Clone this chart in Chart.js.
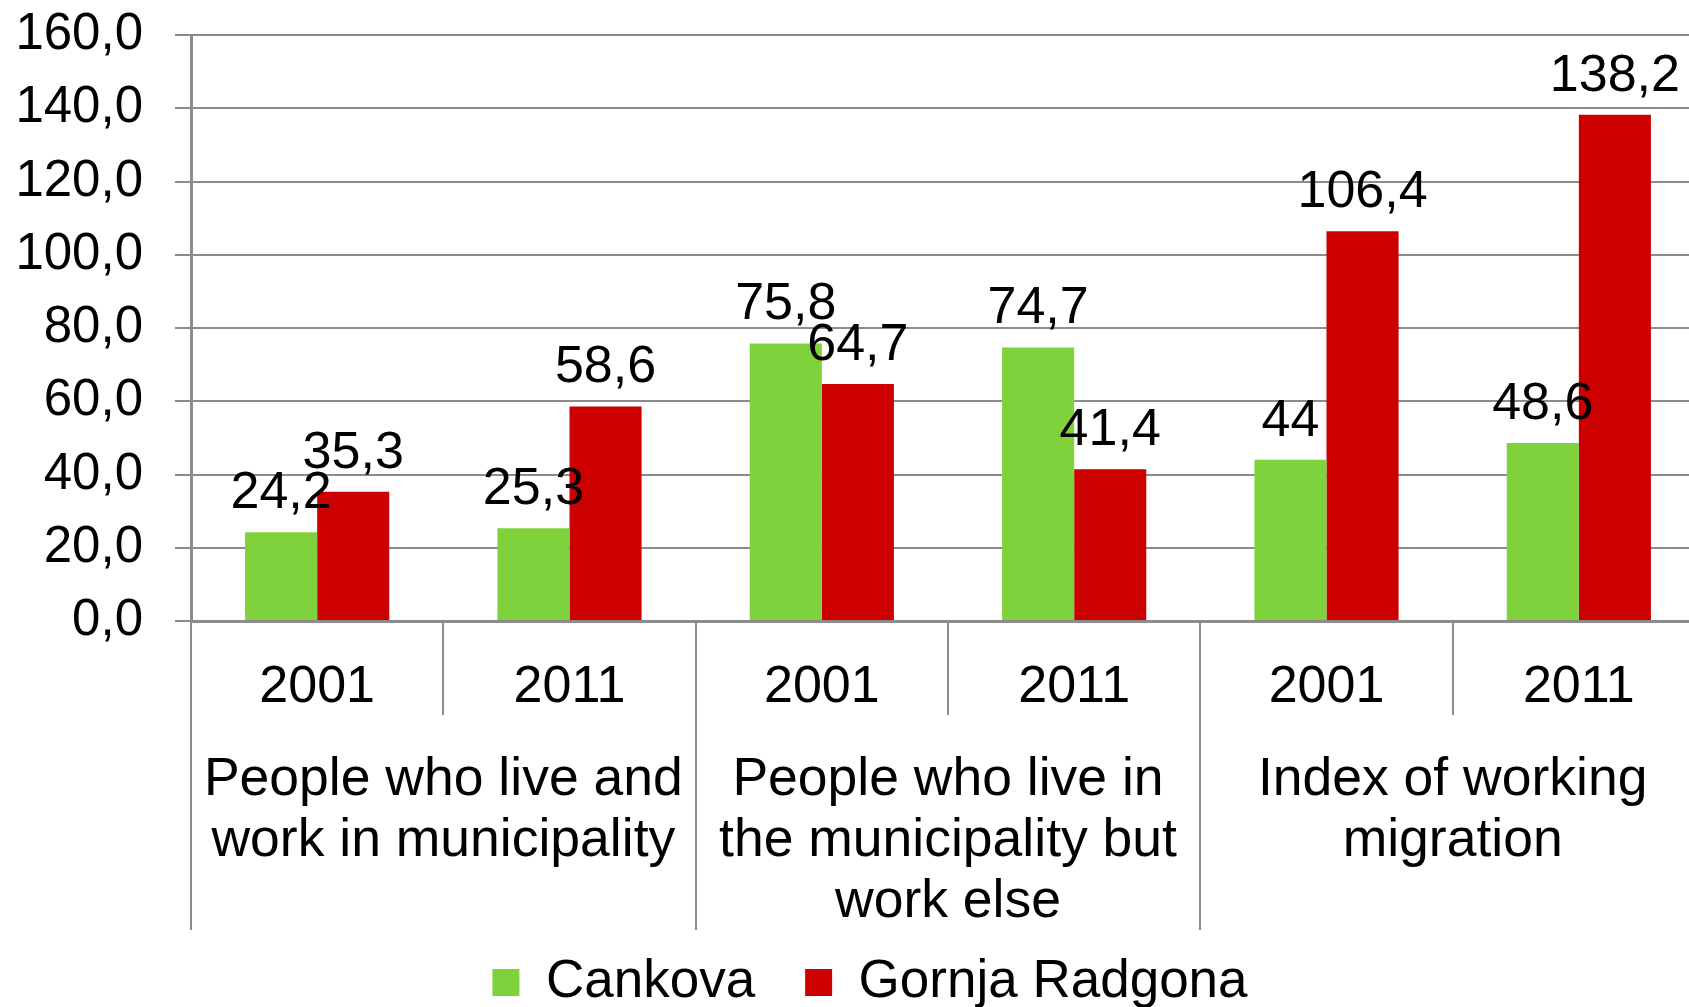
<!DOCTYPE html>
<html>
<head>
<meta charset="utf-8">
<script src="https://cdn.jsdelivr.net/npm/chart.js@4.4.1/dist/chart.umd.min.js"></script>
<style>
  html, body { margin: 0; padding: 0; background: #fff; overflow: hidden; }
  #wrap { position: relative; width: 1705px; height: 1019px; }
</style>
</head>
<body>
<div id="wrap"><canvas id="myChart"></canvas></div>
<script>
var years = ["2001", "2011", "2001", "2011", "2001", "2011"];
var groups = [
    ["People who live and", "work in municipality"],
    ["People who live in", "the municipality but", "work else"],
    ["Index of working", "migration"]
];
var cankova = [24.2, 25.3, 75.8, 74.7, 44, 48.6];
var gornjaRadgona = [35.3, 58.6, 64.7, 41.4, 106.4, 138.2];
var yTicks = [0, 20, 40, 60, 80, 100, 120, 140, 160];

var gridColor = "#8c8c8c";
var fontFamily = "'Liberation Sans', Arial, sans-serif";

function comma(v) {
    return String(v).replace(".", ",");
}

// value labels above the bars
var valueLabels = {
    id: "valueLabels",
    afterDatasetsDraw: function (chart) {
        var ctx = chart.ctx;
        ctx.save();
        ctx.font = "52px " + fontFamily;
        ctx.fillStyle = "#000";
        ctx.textAlign = "center";
        ctx.textBaseline = "alphabetic";
        chart.data.datasets.forEach(function (ds, d) {
            chart.getDatasetMeta(d).data.forEach(function (bar, i) {
                ctx.fillText(comma(ds.data[i]), bar.x, bar.y - 24);
            });
        });
        ctx.restore();
    }
};

// divider lines under the x axis and the group names
var axisDecor = {
    id: "axisDecor",
    afterLayout: function (chart) {
        // let the y labels use the space left of the axis box (legend is shifted by the left padding)
        chart.scales.y.left = 0;
    },
    afterDraw: function (chart) {
        var ctx = chart.ctx;
        var x = chart.scales.x;
        var top = chart.chartArea.bottom;
        var half = (x.getPixelForValue(1) - x.getPixelForValue(0)) / 2;
        ctx.save();
        ctx.strokeStyle = gridColor;
        ctx.lineWidth = 2;
        for (var i = 0; i <= years.length; i++) {
            var px = Math.round(i < years.length ? x.getPixelForValue(i) - half : x.getPixelForValue(i - 1) + half);
            var len = (i % 2 === 0) ? 309 : 94;
            ctx.beginPath();
            ctx.moveTo(px, top);
            ctx.lineTo(px, top + len);
            ctx.stroke();
        }
        ctx.font = "53.5px " + fontFamily;
        ctx.fillStyle = "#000";
        ctx.textAlign = "center";
        ctx.textBaseline = "alphabetic";
        groups.forEach(function (lines, g) {
            var cx = (x.getPixelForValue(2 * g) + x.getPixelForValue(2 * g + 1)) / 2;
            lines.forEach(function (t, k) {
                ctx.fillText(t, cx, top + 174 + k * 61);
            });
        });
        ctx.restore();
    }
};

Chart.defaults.font.family = fontFamily;
Chart.defaults.color = "#000";

new Chart("myChart", {
    type: "bar",
    data: {
        labels: years,
        datasets: [{
            label: "Cankova",
            data: cankova,
            backgroundColor: "#80d23c",
            borderWidth: 0
        }, {
            label: "Gornja Radgona",
            data: gornjaRadgona,
            backgroundColor: "#cc0000",
            borderWidth: 0
        }]
    },
    options: {
        responsive: true,
        maintainAspectRatio: false,
        animation: false,
        categoryPercentage: 0.5714,
        barPercentage: 1,
        layout: { padding: { top: 35, left: 35, right: 0, bottom: 0 } },
        plugins: {
            tooltip: { enabled: false },
            legend: {
                position: "bottom",
                labels: {
                    boxWidth: 27,
                    boxHeight: 27,
                    padding: 50,
                    font: { size: 53 },
                    color: "#000"
                }
            }
        },
        scales: {
            x: {
                grid: { display: false, drawTicks: false },
                border: { display: true, color: gridColor, width: 3 },
                ticks: { font: { size: 52 }, padding: 35, maxRotation: 0, autoSkip: false },
                // legend takes 53 + 50 + 10 px at the bottom
                afterFit: function (s) { s.height = 1019 - 113 - 621; }
            },
            y: {
                min: 0,
                max: 160,
                afterBuildTicks: function (s) {
                    s.ticks = yTicks.map(function (v) { return { value: v }; });
                },
                grid: { color: gridColor, lineWidth: 2, tickLength: 16, tickColor: gridColor },
                border: { display: true, color: gridColor, width: 3 },
                ticks: {
                    font: { size: 51 },
                    padding: 32,
                    callback: function (v) { return v.toFixed(1).replace(".", ","); }
                },
                afterFit: function (s) {
                    s.width = 156;
                    s.paddingTop = 0;
                    s.paddingBottom = 0;
                }
            }
        }
    },
    plugins: [valueLabels, axisDecor]
});
</script>
</body>
</html>
